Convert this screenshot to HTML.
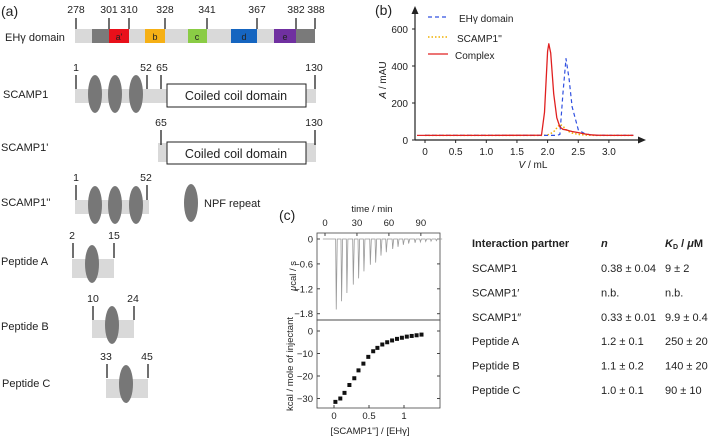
<!DOCTYPE html>
<html><head><meta charset="utf-8"><style>
body{margin:0;background:#fff}
svg{display:block;font-family:"Liberation Sans",sans-serif}
</style></head><body>
<svg id="fig" width="709" height="443" viewBox="0 0 709 443" xmlns="http://www.w3.org/2000/svg">
<!-- Panel a -->
<g font-size="10.5" fill="#222">
<text x="1" y="16" font-size="14">(a)</text>
<text x="5" y="41" font-size="11">EHγ domain</text>
<rect x="75" y="29" width="240" height="14" fill="#d9d9d9"/>
<rect x="92" y="29" width="17" height="14" fill="#7a7a7a"/>
<rect x="109" y="29" width="20" height="14" fill="#e8101a"/><text x="119" y="40" font-size="9" text-anchor="middle">a'</text>
<rect x="145" y="29" width="20" height="14" fill="#f6b015"/><text x="155" y="40" font-size="9" text-anchor="middle">b</text>
<rect x="188" y="29" width="19" height="14" fill="#8acc45"/><text x="197" y="40" font-size="9" text-anchor="middle">c</text>
<rect x="231" y="29" width="26" height="14" fill="#1565c0"/><text x="244" y="40" font-size="9" text-anchor="middle">d</text>
<rect x="274" y="29" width="22" height="14" fill="#7030a0"/><text x="285" y="40" font-size="9" text-anchor="middle">e</text>
<rect x="296" y="29" width="19" height="14" fill="#7a7a7a"/>
<g stroke="#222" stroke-width="1.3">
<line x1="76" y1="18" x2="76" y2="29"/><line x1="109" y1="18" x2="109" y2="29"/><line x1="129" y1="18" x2="129" y2="29"/><line x1="165" y1="18" x2="165" y2="29"/><line x1="207" y1="18" x2="207" y2="29"/><line x1="257" y1="18" x2="257" y2="29"/><line x1="296" y1="18" x2="296" y2="29"/><line x1="315" y1="18" x2="315" y2="29"/>
</g>
<g text-anchor="middle"><text x="76" y="13">278</text><text x="109" y="13">301</text><text x="129" y="13">310</text><text x="165" y="13">328</text><text x="207" y="13">341</text><text x="257" y="13">367</text><text x="296" y="13">382</text><text x="316" y="13">388</text></g>

<text x="3" y="98" font-size="11">SCAMP1</text>
<rect x="75" y="89" width="241" height="14" fill="#d9d9d9"/>
<g fill="#777"><ellipse cx="95" cy="94" rx="7" ry="19"/><ellipse cx="115" cy="94" rx="7" ry="19"/><ellipse cx="136" cy="94" rx="7" ry="19"/></g>
<g stroke="#222" stroke-width="1.3"><line x1="76" y1="75" x2="76" y2="89"/><line x1="147" y1="75" x2="147" y2="89"/><line x1="161" y1="75" x2="161" y2="89"/><line x1="315" y1="75" x2="315" y2="89"/></g>
<g text-anchor="middle"><text x="76" y="71">1</text><text x="146" y="71">52</text><text x="162" y="71">65</text><text x="314" y="71">130</text></g>
<rect x="167" y="84" width="139" height="23" fill="#fff" stroke="#222"/>
<text x="236" y="100" font-size="12.5" text-anchor="middle">Coiled coil domain</text>

<text x="1" y="151" font-size="11">SCAMP1'</text>
<rect x="158" y="143" width="158" height="19" fill="#d9d9d9"/>
<g stroke="#222" stroke-width="1.3"><line x1="161" y1="130" x2="161" y2="145"/><line x1="315" y1="130" x2="315" y2="145"/></g>
<g text-anchor="middle"><text x="161" y="126">65</text><text x="314" y="126">130</text></g>
<rect x="167" y="142" width="139" height="22" fill="#fff" stroke="#222"/>
<text x="236" y="158" font-size="12.5" text-anchor="middle">Coiled coil domain</text>

<text x="1" y="206" font-size="11">SCAMP1''</text>
<rect x="75" y="200" width="74" height="14" fill="#d9d9d9"/>
<g fill="#777"><ellipse cx="95" cy="205" rx="7" ry="19"/><ellipse cx="115" cy="205" rx="7" ry="19"/><ellipse cx="136" cy="205" rx="7" ry="19"/></g>
<g stroke="#222" stroke-width="1.3"><line x1="76" y1="185" x2="76" y2="200"/><line x1="147" y1="185" x2="147" y2="200"/></g>
<g text-anchor="middle"><text x="76" y="181">1</text><text x="146" y="181">52</text></g>
<ellipse cx="191" cy="203" rx="7" ry="19" fill="#777"/>
<text x="204" y="207" font-size="11">NPF repeat</text>

<text x="1" y="265" font-size="11">Peptide A</text>
<rect x="72" y="259" width="42" height="19" fill="#d9d9d9"/><ellipse cx="92" cy="264" rx="7" ry="19" fill="#777"/>
<g stroke="#222" stroke-width="1.3"><line x1="73" y1="243" x2="73" y2="258"/><line x1="114" y1="243" x2="114" y2="258"/></g>
<g text-anchor="middle"><text x="72" y="239">2</text><text x="114" y="239">15</text></g>

<text x="1" y="330" font-size="11">Peptide B</text>
<rect x="92" y="320" width="42" height="18" fill="#d9d9d9"/><ellipse cx="112" cy="325" rx="7" ry="19" fill="#777"/>
<g stroke="#222" stroke-width="1.3"><line x1="93" y1="306" x2="93" y2="320"/><line x1="134" y1="306" x2="134" y2="320"/></g>
<g text-anchor="middle"><text x="93" y="302">10</text><text x="133" y="302">24</text></g>

<text x="2" y="387" font-size="11">Peptide C</text>
<rect x="106" y="379" width="42" height="19" fill="#d9d9d9"/><ellipse cx="126" cy="384" rx="7" ry="19" fill="#777"/>
<g stroke="#222" stroke-width="1.3"><line x1="107" y1="364" x2="107" y2="378"/><line x1="148" y1="364" x2="148" y2="378"/></g>
<g text-anchor="middle"><text x="106" y="360">33</text><text x="147" y="360">45</text></g>
</g>

<!-- Panel b -->
<g font-size="10" fill="#222">
<text x="375" y="15" font-size="14">(b)</text>
<g id="bAxes"></g>
<g id="bLines"></g>
<line x1="428" y1="17" x2="448" y2="17" stroke="#3050e0" stroke-width="1.2" stroke-dasharray="4,3"/><text x="459" y="22">EHγ domain</text>
<line x1="428" y1="37" x2="448" y2="37" stroke="#f0b000" stroke-width="1.5" stroke-dasharray="1.5,2"/><text x="457" y="42">SCAMP1''</text>
<line x1="428" y1="54" x2="448" y2="54" stroke="#e02020" stroke-width="1.3"/><text x="455" y="59">Complex</text>
<text x="533" y="168" text-anchor="middle"><tspan font-style="italic">V</tspan> / mL</text>
<text transform="translate(386,80) rotate(-90)" text-anchor="middle"><tspan font-style="italic">A</tspan> / mAU</text>
</g>

<!-- Panel c -->
<g font-size="9.5" fill="#222">
<text x="279" y="220" font-size="14">(c)</text>
<text x="372" y="212" text-anchor="middle">time / min</text>
<rect x="317" y="233" width="123" height="87" fill="none" stroke="#444" stroke-width="0.8"/>
<rect x="317" y="320" width="123" height="88" fill="none" stroke="#444" stroke-width="0.8"/>
<g id="cTop"></g>
<g id="cBot"></g>
<text transform="translate(296,276) rotate(-90)" text-anchor="middle"><tspan font-style="italic">μ</tspan>cal / s</text>
<text transform="translate(293,364) rotate(-90)" text-anchor="middle">kcal / mole of injectant</text>
<text x="370" y="434" text-anchor="middle">[SCAMP1''] / [EHγ]</text>
</g>

<!-- Table -->
<g font-size="11" fill="#222">
<text x="472" y="247" font-weight="bold">Interaction partner</text>
<text x="601" y="247" font-weight="bold" font-style="italic">n</text>
<text x="665" y="247" font-weight="bold"><tspan font-style="italic">K</tspan><tspan font-size="7" dy="2">D</tspan><tspan dy="-2"> / </tspan><tspan font-style="italic">μ</tspan>M</text>
<g id="tRows"></g>
</g>

<script>
const NS="http://www.w3.org/2000/svg";
function mk(tag,attrs,parent,txt){const e=document.createElementNS(NS,tag);for(const k in attrs)e.setAttribute(k,attrs[k]);if(txt!==undefined)e.textContent=txt;parent.appendChild(e);return e;}

// ---- Panel b data ----
const secVolume=[0,1.0,1.9,1.95,2.0,2.02,2.05,2.1,2.15,2.2,2.25,2.3,2.35,2.4,2.5,2.6,2.7,2.8,3.0,3.4];
const secComplex=[25,25,26,150,480,520,470,250,120,70,58,55,50,46,40,33,28,26,25,25];
const secEhy=[25,25,25,25,25,25,25,25,25,30,250,440,330,180,55,35,28,26,25,25];
const secScamp=[25,25,25,26,28,30,35,45,65,85,75,55,45,38,30,27,26,25,25,25];
const bXTicks=[0,0.5,1.0,1.5,2.0,2.5,3.0];
const bXTickLabels=["0","0.5","1.0","1.5","2.0","2.5","3.0"];
const bYTicks=[0,200,400,600];
const bx=v=>425+v*61.3, by=v=>140-v*0.185;
const bA=document.getElementById('bAxes');
let l=mk('line',{x1:415,y1:140,x2:640,y2:140,stroke:'#222','stroke-width':1.2},bA);


mk('path',{d:'M646 140 L638 136.5 L638 143.5Z',fill:'#222'},bA);
l=mk('line',{x1:415,y1:140,x2:415,y2:12,stroke:'#222','stroke-width':1.2},bA);


mk('path',{d:'M415 6 L411.5 14 L418.5 14Z',fill:'#222'},bA);
bXTicks.forEach((v,i)=>{mk('line',{x1:bx(v),y1:140,x2:bx(v),y2:143,stroke:'#222'},bA);
 const t=mk('text',{x:bx(v),y:155,'text-anchor':'middle'},bA,bXTickLabels[i]);
 
 });
bYTicks.forEach(v=>{mk('line',{x1:412,y1:by(v),x2:415,y2:by(v),stroke:'#222'},bA);
 const t=mk('text',{x:408,y:by(v)+4,'text-anchor':'end'},bA,String(v));
 
 });
const bL=document.getElementById('bLines');
function pl(ys,stroke,dash,w,name){const p=mk('polyline',{points:secVolume.map((v,i)=>bx(v).toFixed(1)+','+by(ys[i]).toFixed(1)).join(' '),fill:'none',stroke:stroke,'stroke-width':w,'stroke-dasharray':dash,'stroke-linejoin':'round'},bL);
 
 }
mk('line',{x1:417,y1:by(25),x2:bx(0),y2:by(25),stroke:'#e02020','stroke-width':1.2},bL);
pl(secScamp,'#f0b000','1.5,2',1.5,'line-scamp1');
pl(secEhy,'#3050e0','4,3',1.2,'line-ehy');
pl(secComplex,'#e02020','',1.3,'line-complex');

// ---- Panel c data ----
const itcTimeTicks=[0,30,60,90];
const itcPowerTicks=[0,-0.6,-1.2,-1.8];
const itcInjTime=[10,15,20,26,31,36,42,47,52,57,63,68,73,78,84,89,94,99,104];
const itcInjPeak=[-1.7,-1.5,-1.3,-1.1,-0.95,-0.78,-0.62,-0.57,-0.4,-0.32,-0.24,-0.19,-0.14,-0.11,-0.09,-0.07,-0.06,-0.05,-0.04];
const itcRatio=[0.02,0.09,0.15,0.22,0.29,0.35,0.42,0.49,0.56,0.62,0.69,0.76,0.83,0.9,0.97,1.04,1.11,1.18,1.25];
const itcHeat=[-31.5,-30,-27.5,-24,-21,-17.5,-14.5,-11.5,-9,-7.5,-6,-5,-4.2,-3.5,-3,-2.5,-2.2,-1.9,-1.6];
const itcHeatTicks=[0,-10,-20,-30];
const itcRatioTicks=[0,0.5,1];
const itcRatioLabels=["0","0.5","1"];
const tx=t=>325+t*1.065, py=v=>239-v*41.5;
const rx=r=>334+r*70, hy=v=>331-v*2.25;
const cT=document.getElementById('cTop');
itcTimeTicks.forEach(t=>{mk('line',{x1:tx(t),y1:233,x2:tx(t),y2:236,stroke:'#444'},cT);
 const e=mk('text',{x:tx(t),y:226,'text-anchor':'middle'},cT,String(t));
 
 });
itcPowerTicks.forEach(v=>{mk('line',{x1:317,y1:py(v),x2:320,y2:py(v),stroke:'#444'},cT);mk('line',{x1:437,y1:py(v),x2:440,y2:py(v),stroke:'#444'},cT);
 const e=mk('text',{x:313,y:py(v)+3.5,'text-anchor':'end'},cT,v===0?"0":"−"+Math.abs(v).toFixed(1));
 
 });
let d='M'+tx(-2)+' '+py(0);
itcInjTime.forEach((t,i)=>{d+=' L'+tx(t)+' '+py(0)+' L'+(tx(t)+0.6)+' '+py(itcInjPeak[i])+' L'+(tx(t)+1.6)+' '+py(0);});
d+=' L'+tx(110)+' '+py(0);
const trace=mk('path',{d:d,fill:'none',stroke:'#999','stroke-width':0.8},cT);


const cB=document.getElementById('cBot');
itcHeatTicks.forEach(v=>{mk('line',{x1:317,y1:hy(v),x2:320,y2:hy(v),stroke:'#444'},cB);mk('line',{x1:437,y1:hy(v),x2:440,y2:hy(v),stroke:'#444'},cB);
 const e=mk('text',{x:313,y:hy(v)+3.5,'text-anchor':'end'},cB,v===0?"0":"−"+Math.abs(v));
 
 });
itcRatioTicks.forEach((r,i)=>{mk('line',{x1:rx(r),y1:405,x2:rx(r),y2:408,stroke:'#444'},cB);
 const e=mk('text',{x:rx(r),y:419,'text-anchor':'middle'},cB,itcRatioLabels[i]);
 
 });
itcRatio.forEach((r,i)=>{const s=mk('rect',{x:rx(r)-2,y:hy(itcHeat[i])-2,width:4,height:4,fill:'#111'},cB);
 
 });

// ---- Table ----
const tPartner=["SCAMP1","SCAMP1′","SCAMP1″","Peptide A","Peptide B","Peptide C"];
const tN=["0.38 ± 0.04","n.b.","0.33 ± 0.01","1.2 ± 0.1","1.1 ± 0.2","1.0 ± 0.1"];
const tKd=["9 ± 2","n.b.","9.9 ± 0.4","250 ± 20","140 ± 20","90 ± 10"];
const tR=document.getElementById('tRows');
tPartner.forEach((p,i)=>{const y=272+i*24.4;
 let e=mk('text',{x:472,y:y},tR,p);
 
 
 e=mk('text',{x:601,y:y},tR,tN[i]);
 
 
 e=mk('text',{x:665,y:y},tR,tKd[i]);
 
 });
</script>
</svg>
</body></html>
